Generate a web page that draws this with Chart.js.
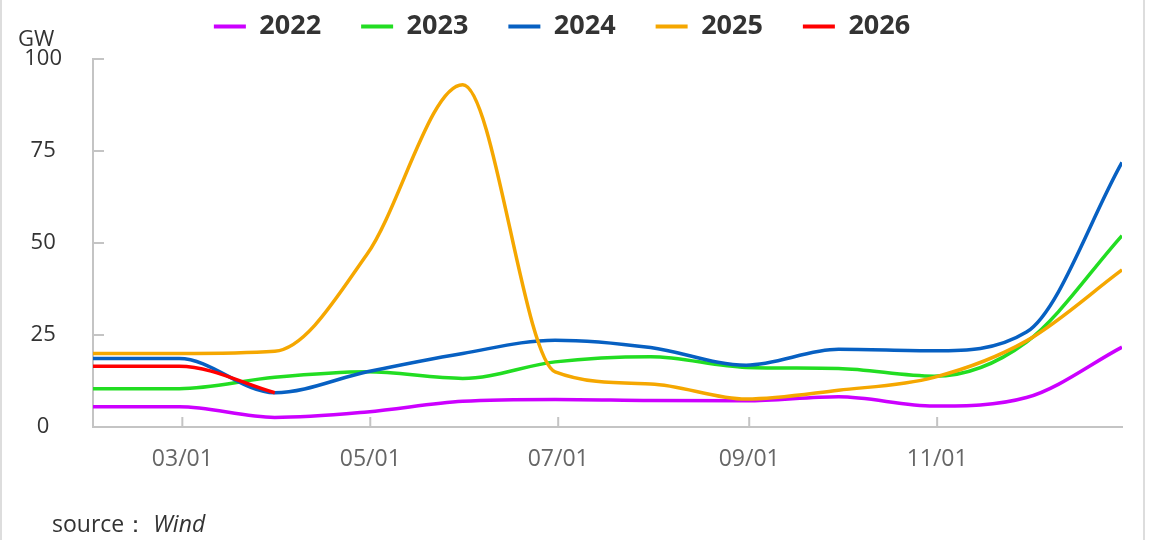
<!DOCTYPE html>
<html>
<head>
<meta charset="utf-8">
<script src="https://cdn.jsdelivr.net/npm/chart.js@4.4.1/dist/chart.umd.min.js"></script>
<style>
  body { margin: 0; background: #fff; }
  #wrap { position: absolute; left: 0; top: 0; width: 1141px; height: 540px; border-left: 2px solid #ddd; border-right: 2px solid #ddd; }
  #unidade { position: absolute; left: 16px; top: 26px; font: 22px/22px "Open Sans", sans-serif; color: #333; }
  #fonte { position: absolute; left: 50px; top: 512px; font: 23px/23px "Open Sans", sans-serif; color: #333; white-space: pre; }
</style>
</head>
<body>
<div id="wrap">
  <canvas id="grafico" width="1141" height="540"></canvas>
  <div id="unidade">GW</div>
  <div id="fonte">source： <i>Wind</i></div>
</div>
<script>
// fim de cada mês
const datas = ['01/31', '02/28', '03/31', '04/30', '05/31', '06/30', '07/31', '08/31', '09/30', '10/31', '11/30', '12/31'];
const anos = ['2022', '2023', '2024', '2025', '2026'];
const cores = ['#cc00ff', '#22dd22', '#0760c2', '#f5a700', '#ff0000'];

const v2022 = [5.5, 5.5, 2.6, 4.1, 7.0, 7.5, 7.2, 7.1, 8.2, 5.7, 8.0, 21.7];
const v2023 = [10.4, 10.4, 13.5, 15.0, 13.2, 17.7, 19.1, 16.2, 15.9, 13.8, 23.1, 52.0];
const v2024 = [18.6, 18.6, 9.3, 15.0, 20.0, 23.6, 21.6, 16.8, 21.1, 20.7, 25.8, 71.9];
const v2025 = [20.0, 20.0, 20.6, 47.0, 93.0, 15.0, 11.7, 7.6, 10.0, 13.5, 23.4, 42.7];
const v2026 = [16.5, 16.5, 9.3];

const tickDatas = ['03/01', '05/01', '07/01', '09/01', '11/01'];

const diasAcumulados = [0, 31, 59, 90, 120, 151, 181, 212, 243, 273, 304, 334];
function diaDoAno(mmdd) {
  const [m, d] = mmdd.split('/').map(Number);
  return diasAcumulados[m - 1] + d - 1;
}

const series = [v2022, v2023, v2024, v2025, v2026];
const tickDias = tickDatas.map(diaDoAno);

const datasets = series.map((vals, i) => ({
  label: anos[i],
  data: vals.map((y, j) => ({ x: diaDoAno(datas[j]), y: y })),
  borderColor: cores[i],
  backgroundColor: cores[i],
  borderWidth: 3.5,
  pointRadius: 0,
  cubicInterpolationMode: 'monotone',
  order: anos.length - i
}));

// marcas dos eixos viradas pra dentro
const marcasInternas = {
  id: 'marcasInternas',
  beforeDatasetsDraw(chart) {
    const { ctx, chartArea, scales: { x, y } } = chart;
    ctx.save();
    ctx.strokeStyle = '#c4c4c4';
    ctx.lineWidth = 2;
    ctx.beginPath();
    y.ticks.forEach(t => {
      const py = y.getPixelForValue(t.value);
      ctx.moveTo(chartArea.left, py);
      ctx.lineTo(chartArea.left + 11, py);
    });
    x.ticks.forEach(t => {
      const px = x.getPixelForValue(t.value);
      ctx.moveTo(px, chartArea.bottom);
      ctx.lineTo(px, chartArea.bottom - 10);
    });
    ctx.stroke();
    ctx.restore();
  }
};

// espaço extra abaixo da legenda
const folgaLegenda = {
  id: 'folgaLegenda',
  beforeInit(chart) {
    const fitOriginal = chart.legend.fit;
    chart.legend.fit = function () {
      fitOriginal.bind(chart.legend)();
      this.height += 9;
    };
  }
};

const ctx = document.getElementById('grafico').getContext('2d');
new Chart(ctx, {
  type: 'line',
  data: { datasets: datasets },
  plugins: [marcasInternas, folgaLegenda],
  options: {
    responsive: false,
    animation: false,
    layout: { padding: { top: -27, right: 21, left: 0, bottom: 0 } },
    scales: {
      x: {
        type: 'linear',
        min: diaDoAno(datas[0]),
        max: diaDoAno(datas[datas.length - 1]),
        afterBuildTicks: scale => { scale.ticks = tickDias.map(v => ({ value: v })); },
        afterFit: scale => { scale.height = 113; },
        grid: { drawOnChartArea: false, drawTicks: false },
        border: { color: '#c4c4c4', width: 2 },
        ticks: {
          padding: 19,
          color: '#666',
          font: { family: 'Open Sans', size: 23 },
          maxRotation: 0,
          callback: v => tickDatas[tickDias.indexOf(v)]
        }
      },
      y: {
        min: 0,
        max: 100,
        afterFit: scale => { scale.width = 91; },
        grid: { drawOnChartArea: false, drawTicks: false },
        border: { color: '#c4c4c4', width: 2 },
        ticks: {
          stepSize: 25,
          padding: 31,
          crossAlign: 'center',
          color: '#333',
          font: { family: 'Open Sans', size: 22 }
        }
      }
    },
    plugins: {
      tooltip: { enabled: false },
      legend: {
        display: true,
        labels: {
          boxWidth: 32,
          boxHeight: 4,
          padding: 40,
          color: '#333',
          font: { family: 'Open Sans', size: 27, weight: 'bold' },
          sort: (a, b) => a.datasetIndex - b.datasetIndex,
          generateLabels: chart => {
            const itens = Chart.defaults.plugins.legend.labels.generateLabels(chart);
            itens.forEach(it => { it.lineWidth = 0; });
            return itens;
          }
        }
      }
    }
  }
});
</script>
</body>
</html>
